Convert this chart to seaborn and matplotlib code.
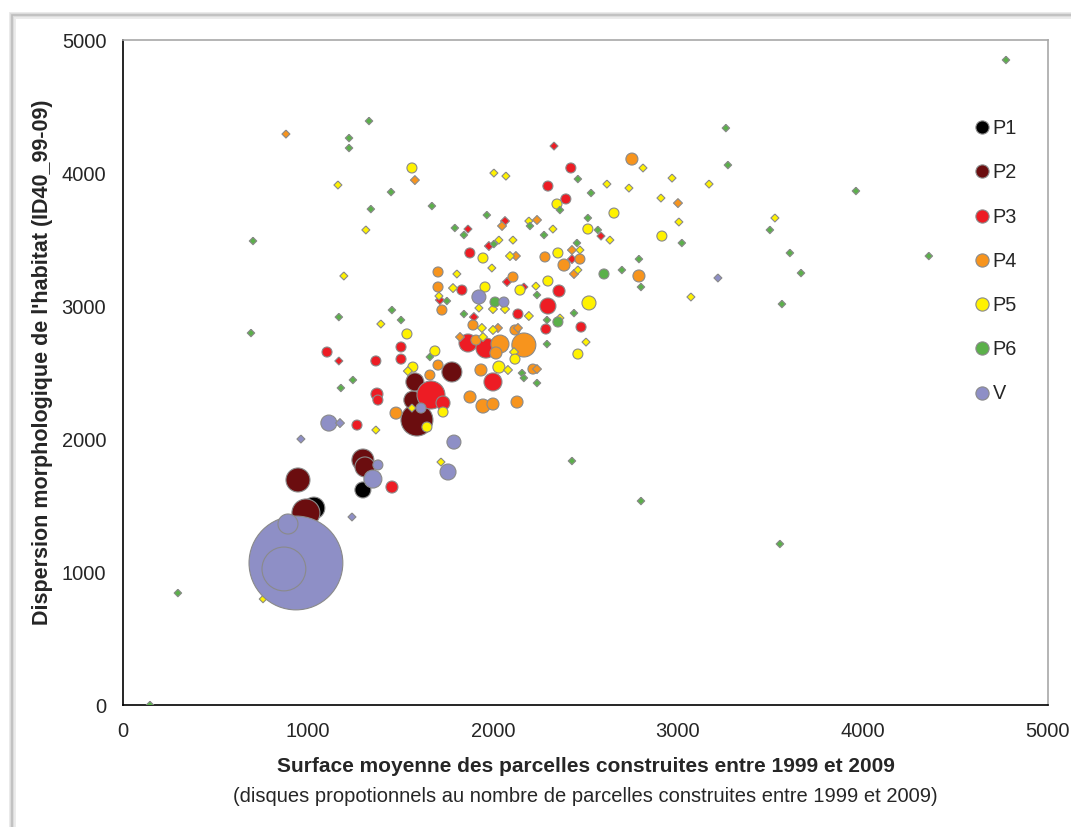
import matplotlib
matplotlib.use("Agg")
import matplotlib.pyplot as plt
import numpy as np
import pandas as pd
import seaborn as sns
from matplotlib.lines import Line2D
from matplotlib.patches import Rectangle

# Surface moyenne des parcelles (x), dispersion ID40_99-09 (y),
# nombre de parcelles construites (taille des disques)
p1_x = [1297, 1032]
p1_y = [1617, 1481]
p1_n = [64, 120]

p2_x = [946, 989, 1297, 1308, 1589, 1567, 1578, 1778]
p2_y = [1692, 1444, 1842, 1790, 2143, 2293, 2429, 2504]
p2_n = [144, 196, 121, 100, 256, 81, 81, 100]

p3_x = [2330, 2297, 2421, 2394, 2065, 1865, 1978, 1875, 2584, 2427, 2076, 1832,
        1713, 2167, 2357, 2297, 2135, 1897, 2476, 2286, 1865, 1962, 2000, 1665,
        1730, 1503, 1503, 1103, 1167, 1367, 1373, 1378, 1265, 1454]
p3_y = [4203, 3902, 4038, 3805, 3639, 3579, 3451, 3399, 3526, 3353, 3181, 3120,
        3045, 3143, 3113, 3000, 2940, 2917, 2842, 2827, 2722, 2684, 2429, 2331,
        2271, 2692, 2601, 2654, 2587, 2587, 2338, 2293, 2105, 1639]
p3_n = [16, 25, 25, 25, 20, 16, 20, 25, 16, 20, 20, 25,
        20, 16, 36, 64, 25, 20, 25, 25, 81, 100, 81, 196,
        49, 25, 25, 25, 16, 25, 36, 25, 25, 36]

p4_x = [881, 1578, 2751, 3000, 2049, 2238, 2124, 2281, 2427, 2470, 2384, 2438,
        2789, 1703, 2108, 1703, 1724, 1892, 1908, 2038, 2167, 2119, 2135, 2016,
        1935, 2216, 2238, 1876, 1946, 2000, 2130, 1703, 1659, 1476, 1822, 2027]
p4_y = [4293, 3947, 4105, 3774, 3602, 3647, 3376, 3369, 3421, 3353, 3308, 3241,
        3226, 3256, 3218, 3143, 2970, 2857, 2744, 2714, 2707, 2820, 2835, 2647,
        2519, 2526, 2526, 2316, 2248, 2263, 2278, 2556, 2481, 2195, 2767, 2835]
p4_n = [16, 20, 36, 20, 20, 20, 20, 25, 20, 25, 36, 20,
        36, 25, 25, 25, 25, 25, 25, 81, 144, 25, 20, 36,
        36, 25, 20, 36, 49, 36, 36, 25, 25, 36, 20, 20]

p5_x = [757, 1162, 1562, 1313, 1194, 1394, 1535, 1567, 1540, 1686, 1367, 1562,
        1730, 1643, 1719, 2005, 2070, 2616, 2735, 2811, 2968, 3168, 2346, 2908,
        2654, 3005, 2513, 2632, 2913, 3524, 3070, 2194, 2324, 2032, 2108, 1946,
        1994, 2092, 2351, 2470, 2459, 1805, 1784, 1957, 2146, 2232, 2297, 2519,
        1708, 1924, 2000, 2065, 2194, 2362, 2503, 2459, 1940, 2000, 2114, 2119,
        2032, 2081, 1946]
p5_y = [797, 3910, 4038, 3572, 3226, 2865, 2790, 2541, 2511, 2662, 2068, 2233,
        2203, 2090, 1827, 4000, 3977, 3917, 3887, 4038, 3962, 3917, 3767, 3812,
        3699, 3632, 3579, 3496, 3526, 3662, 3068, 3639, 3579, 3496, 3496, 3361,
        3286, 3376, 3399, 3421, 3271, 3241, 3135, 3143, 3120, 3150, 3188, 3023,
        3075, 2985, 2977, 2977, 2925, 2910, 2729, 2639, 2835, 2820, 2654, 2601,
        2541, 2519, 2767]
p5_n = [14, 16, 25, 16, 16, 16, 25, 25, 20, 25, 16, 16,
        25, 25, 16, 16, 16, 16, 16, 16, 16, 16, 25, 16,
        25, 16, 25, 16, 25, 16, 16, 16, 16, 16, 16, 25,
        16, 20, 25, 16, 16, 16, 20, 25, 25, 16, 25, 49,
        16, 16, 20, 20, 20, 16, 16, 25, 20, 20, 20, 25,
        36, 20, 20]

p6_x = [146, 297, 703, 692, 1222, 1222, 1330, 1449, 1340, 1670, 1167, 1454,
        1503, 1243, 1178, 1659, 1967, 1794, 1843, 2005, 2200, 2276, 2362, 2459,
        2530, 2513, 2567, 2454, 2789, 2697, 2600, 2800, 3021, 3259, 3270, 3962,
        3497, 3605, 3665, 3562, 4356, 4773, 1751, 2011, 1843, 2238, 2438, 2292,
        2351, 2292, 2157, 2167, 2238, 2427, 2800, 3551]
p6_y = [0, 842, 3489, 2797, 4263, 4188, 4391, 3857, 3729, 3752, 2917, 2970,
        2895, 2444, 2384, 2617, 3684, 3587, 3534, 3466, 3602, 3534, 3722, 3955,
        3850, 3662, 3572, 3474, 3353, 3271, 3241, 3143, 3474, 4338, 4060, 3865,
        3572, 3399, 3248, 3015, 3376, 4850, 3038, 3030, 2940, 3083, 2947, 2895,
        2880, 2714, 2496, 2459, 2421, 1835, 1534, 1211]
p6_n = [14, 14, 14, 14, 14, 14, 14, 14, 14, 14, 14, 14,
        14, 14, 14, 14, 14, 14, 14, 14, 14, 14, 14, 14,
        14, 14, 14, 14, 14, 14, 25, 14, 14, 14, 14, 14,
        14, 14, 14, 14, 14, 14, 14, 25, 14, 14, 14, 14,
        25, 14, 14, 14, 14, 14, 14, 14]

v_x = [935, 870, 892, 962, 1113, 1173, 1238, 1378, 1351, 1789, 1757, 1611, 1924, 2059, 3216]
v_y = [1068, 1023, 1361, 2000, 2120, 2120, 1414, 1805, 1699, 1977, 1752, 2233, 3068, 3030, 3211]
v_n = [2200, 480, 100, 16, 64, 20, 16, 25, 81, 49, 64, 25, 49, 25, 16]

groups = ["P1", "P2", "P3", "P4", "P5", "P6", "V"]
colors = ["#000000", "#6b0d0f", "#ed1c24", "#f7941d", "#fff200", "#5bb04a", "#8e8fc6"]
series = [(p1_x, p1_y, p1_n), (p2_x, p2_y, p2_n), (p3_x, p3_y, p3_n),
          (p4_x, p4_y, p4_n), (p5_x, p5_y, p5_n), (p6_x, p6_y, p6_n),
          (v_x, v_y, v_n)]

frames = []
for g, (xs, ys, ns) in zip(groups, series):
    frames.append(pd.DataFrame({"surface": xs, "dispersion": ys,
                                "parcelles": ns, "groupe": g}))
df = pd.concat(frames, ignore_index=True)
# small disks render as little diamonds, as in the original
df["forme"] = np.where(df["parcelles"] < 24, "petit", "grand")

diamond = np.array([[0, 1], [1, 0], [0, -1], [-1, 0], [0, 1]])

sns.set_style("white")
plt.rcParams["font.family"] = ["Liberation Sans", "DejaVu Sans"]

fig = plt.figure(figsize=(10.71, 8.27), dpi=100)
ax = fig.add_axes([0.1148, 0.1475, 0.8637, 0.8041])

# outer chart frame with a light shadow
for lw, col in [(5, "#ececec"), (3, "#dcdcdc"), (1.2, "#bdbdbd")]:
    fig.patches.append(Rectangle((12 / 1071, -0.2), 1.2, 1.2 - 15 / 827,
                                 transform=fig.transFigure, fill=False,
                                 edgecolor=col, linewidth=lw, zorder=0))

px_pt = 72 / 100
sns.scatterplot(
    data=df, x="surface", y="dispersion", hue="groupe", hue_order=groups,
    palette=colors, size="parcelles", sizes=(0, (2 * px_pt) ** 2 * 2200),
    size_norm=(0, 2200), style="forme", markers={"petit": diamond, "grand": "o"},
    edgecolor="#8a8a8a", linewidth=0.8, legend=False, ax=ax, zorder=3,
)

ax.set_xlim(0, 5000)
ax.set_ylim(0, 5000)
ax.set_xticks(range(0, 5001, 1000))
ax.set_yticks(range(0, 5001, 1000))
ax.tick_params(direction="out", length=6, width=1, color="black",
               labelsize=14.5, pad=6)
for s in ["left", "bottom"]:
    ax.spines[s].set_color("black")
    ax.spines[s].set_linewidth(1.2)
for s in ["top", "right"]:
    ax.spines[s].set_color("#a8a8a8")
    ax.spines[s].set_linewidth(1.2)

ax.set_xlabel("Surface moyenne des parcelles construites entre 1999 et 2009",
              fontsize=15, fontweight="bold", labelpad=12)
ax.set_ylabel("Dispersion morphologique de l'habitat (ID40_99-09)",
              fontsize=15.5, fontweight="bold")
ax.yaxis.set_label_coords(-0.0757, 0.516)
fig.text(0.5465, 1 - 797 / 827,
         "(disques propotionnels au nombre de parcelles construites entre 1999 et 2009)",
         ha="center", va="center", fontsize=14.5)

handles = [Line2D([], [], marker="o", linestyle="", markersize=9.5,
                  markerfacecolor=c, markeredgecolor="#8a8a8a", markeredgewidth=0.8)
           for c in colors]
ax.legend(handles, groups, loc="upper left", bbox_to_anchor=(0.9135, 0.893),
          frameon=False, fontsize=14.3, labelspacing=1.27, handlelength=0.6,
          handletextpad=0.25, borderaxespad=0)

fig.savefig("out.png", dpi=100)
